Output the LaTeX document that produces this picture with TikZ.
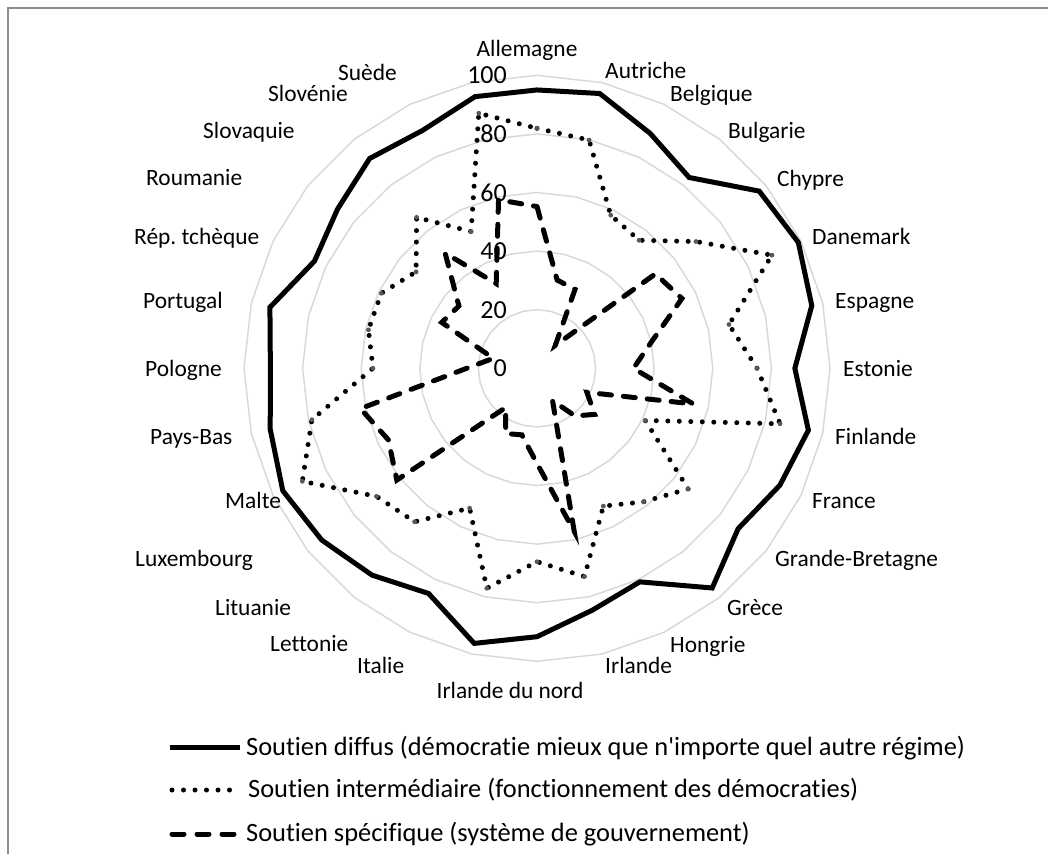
\documentclass[tikz,border=0pt]{standalone}
\usepackage{fontspec}
\newfontfamily\carl{Carlito}[Ligatures=CommonOff]
\begin{document}
\frenchspacing
\begin{tikzpicture}[x=1pt,y=-1pt,
  gridline/.style={draw=black!15,line width=1.5pt},
  frameline/.style={draw=black!45,line width=2pt},
  serdiffus/.style={draw=black,line width=5pt,line join=miter},
  serinter/.style={draw=black,line width=5pt,line cap=round,dash pattern=on 0pt off 11.5pt},
  serspec/.style={draw=black,line width=5pt,line cap=round,dash pattern=on 12pt off 12pt},
  vdot/.style={fill=black!65,draw=none},
  catlab/.style={font=\carl\fontsize{23.4}{28}\selectfont,inner sep=0pt,anchor=base west},
  axlab/.style={font=\carl\fontsize{26}{30}\selectfont,inner sep=0pt,anchor=base east},
  leglab/.style={font=\carl\fontsize{26.4}{31}\selectfont,inner sep=0pt,anchor=base west}]
\useasboundingbox (0,0) rectangle (1048,854);
\fill[white] (0,0) rectangle (1048,854);
\draw[frameline] (8,854) -- (8,7.5) -- (1048,7.5);
\coordinate (c) at (537,368.3);
\begin{scope}[shift={(537,368.3)}]
  \foreach \r in {20,40,60,80,100}{
    \draw[gridline] (-90:{2.93*\r}) \foreach \i in {1,...,27}{ -- ({\i*360/28-90}:{2.93*\r}) } -- cycle;
  }
  \foreach \v [count=\i from 0] in {95,96.2,89,83.3,97,99,96.2,88,95,92,87.8,95.9,80.9,84.7,91.6,96.3,85.3,90.3,94,96.3,93.4,91,93.5,84.3,87.1,91.6,90.1,95.1}
    \coordinate (d\i) at ({\i*360/28-90}:{2.93*\v});
  \foreach \v [count=\i from 0] in {81.9,79.9,58,55.9,69.4,89,67.2,75.1,85.1,41,66,58.3,52.2,72.9,66,77,53,67,70.1,88.9,78.8,56,59,59,52.8,65.9,51.8,89.3}
    \coordinate (m\i) at ({\i*360/28-90}:{2.93*\v});
  \foreach \v [count=\i from 0] in {55.2,30.9,29.9,10,51.7,54.9,40,32.9,54.7,18.9,25.2,20.8,12.2,57.1,32.5,23.3,24.7,17.1,61.2,56.3,61.8,24,15.3,36.1,34.1,50.3,32.1,59}
    \coordinate (s\i) at ({\i*360/28-90}:{2.93*\v});
\end{scope}
% axis labels
\node[axlab] (a0) at (507,376.8) {0};
\node[axlab] (a20) at (507,318.2) {20};
\node[axlab] (a40) at (507,259.6) {40};
\node[axlab] (a60) at (507,201.0) {60};
\node[axlab] (a80) at (507,142.4) {80};
\node[axlab] (a100) at (507,83.8) {100};
% series
\draw[serspec] (s0) \foreach \i in {1,...,27}{ -- (s\i) } -- cycle;
\draw[serinter] (m0) \foreach \i in {1,...,27}{ -- (m\i) } -- cycle;
\foreach \i in {0,...,27}{ \fill[vdot] (m\i) circle (2.4); }
\draw[serdiffus] (d0) \foreach \i in {1,...,27}{ -- (d\i) } -- cycle;
% category labels
\node[catlab,anchor=base] (l0) at (527,56) {Allemagne};
\node[catlab] (l1) at (605,78) {Autriche};
\node[catlab] (l2) at (670,101) {Belgique};
\node[catlab] (l3) at (728,138) {Bulgarie};
\node[catlab] (l4) at (777,186) {Chypre};
\node[catlab] (l5) at (812,244) {Danemark};
\node[catlab] (l6) at (835,308) {Espagne};
\node[catlab] (l7) at (843,376) {Estonie};
\node[catlab] (l8) at (835,444) {Finlande};
\node[catlab] (l9) at (812,508) {France};
\node[catlab] (l10) at (775,566) {Grande-Bretagne};
\node[catlab] (l11) at (727,615) {Grèce};
\node[catlab] (l12) at (670,652) {Hongrie};
\node[catlab] (l13) at (605,673) {Irlande};
\node[catlab,anchor=base] (l14) at (510,698) {Irlande du nord};
\node[catlab] (l15) at (357,673) {Italie};
\node[catlab] (l16) at (270,651) {Lettonie};
\node[catlab] (l17) at (215,615) {Lituanie};
\node[catlab] (l18) at (135,566) {Luxembourg};
\node[catlab] (l19) at (225,508) {Malte};
\node[catlab] (l20) at (150,444) {Pays-Bas};
\node[catlab] (l21) at (145,376) {Pologne};
\node[catlab] (l22) at (143,308) {Portugal};
\node[catlab] (l23) at (134,244) {Rép. tchèque};
\node[catlab] (l24) at (146,185) {Roumanie};
\node[catlab] (l25) at (203,138) {Slovaquie};
\node[catlab] (l26) at (268,101) {Slovénie};
\node[catlab] (l27) at (338,80) {Suède};
% legend
\coordinate (g1a) at (170,747.3); \coordinate (g1b) at (240,747.3);
\coordinate (g2a) at (172,790); \coordinate (g2b) at (234,790);
\coordinate (g3a) at (172,834); \coordinate (g3b) at (234,834);
\draw[serdiffus] (g1a) -- (g1b);
\draw[serinter] (g2a) -- (g2b);
\draw[serspec,dash pattern=on 12pt off 13pt] (g3a) -- (g3b);
\node[leglab] (t1) at (246,755) {Soutien diffus (démocratie mieux que n'importe quel autre régime)};
\node[leglab] (t2) at (248,797.7) {Soutien intermédiaire (fonctionnement des démocraties)};
\node[leglab] (t3) at (246,841.7) {Soutien spécifique (système de gouvernement)};
\end{tikzpicture}
\end{document}
